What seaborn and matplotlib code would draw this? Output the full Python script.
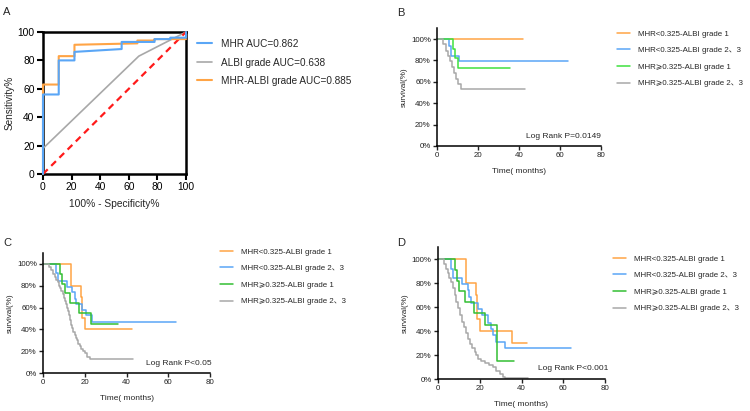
import matplotlib
matplotlib.use("Agg")
import matplotlib.pyplot as plt
import seaborn as sns
import pandas as pd

sns.set_style("ticks")
plt.rcParams['font.family'] = ['Liberation Sans', 'Noto Sans CJK SC', 'DejaVu Sans']

# ---------------- data ----------------
# Panel A : ROC curves (100% - specificity, sensitivity)
roc_mhr_fpr = [0, 0, 11, 11, 22, 22, 55, 55, 78, 78, 89, 89, 100, 100]
roc_mhr_tpr = [0, 56, 56, 80, 80, 86, 88, 93, 93, 95, 95, 96, 96, 100]
roc_albi_fpr = [0, 0, 67, 100]
roc_albi_tpr = [0, 18, 83, 100]
roc_comb_fpr = [0, 0, 11, 11, 22, 22, 66, 66, 78, 78, 100]
roc_comb_tpr = [0, 63, 63, 83, 83, 91, 92, 94, 94, 95, 95]
roc_labels = ["MHR AUC=0.862", "ALBI grade AUC=0.638", "MHR-ALBI grade AUC=0.885"]

km_labels = ["MHR<0.325-ALBI grade 1", "MHR<0.325-ALBI grade 2、3",
             "MHR⩾0.325-ALBI grade 1", "MHR⩾0.325-ALBI grade 2、3"]

# Panel B : step points (time in months, survival fraction)
b_orange_t = [0, 42]
b_orange_s = [1, 1]
b_blue_t = [0, 6.0, 6.8, 10.7, 64]
b_blue_s = [1, 0.93, 0.84, 0.79, 0.79]
b_green_t = [0, 8.0, 9.0, 10.0, 35.6]
b_green_s = [1, 0.91, 0.82, 0.73, 0.73]
b_gray_t = [0, 2.9, 4.2, 5.3, 6.2, 7.2, 8.2, 9.2, 10.2, 11.6, 43]
b_gray_s = [1, 0.95, 0.89, 0.84, 0.79, 0.74, 0.68, 0.63, 0.58, 0.53, 0.53]
b_pval = "Log Rank P=0.0149"

# Panel C
c_orange_t = [0, 13.2, 18.1, 18.8, 20.3, 42.5]
c_orange_s = [1, 0.80, 0.70, 0.50, 0.40, 0.40]
c_blue_t = [0, 6.1, 7.2, 11.5, 14.0, 15.2, 16.0, 18.8, 20.8, 23.6, 63.7]
c_blue_s = [1, 0.92, 0.84, 0.79, 0.74, 0.68, 0.63, 0.58, 0.53, 0.47, 0.47]
c_green_t = [0, 8.3, 9.3, 10.4, 12.8, 17.3, 23.0, 36.0]
c_green_s = [1, 0.91, 0.82, 0.73, 0.64, 0.55, 0.45, 0.45]
c_gray_t = [0, 3.0, 4.0, 5.0, 5.7, 6.4, 7.0, 7.6, 8.2, 8.8, 9.5, 10.0, 10.6, 11.0,
            11.5, 12.0, 12.5, 13.0, 13.6, 14.0, 14.6, 15.2, 16.0, 16.5, 17.0, 17.6,
            18.3, 19.2, 20.0, 21.0, 22.4, 43.3]
c_gray_s = [1, 0.97, 0.94, 0.91, 0.88, 0.855, 0.83, 0.80, 0.775, 0.75, 0.72, 0.69,
            0.66, 0.63, 0.60, 0.57, 0.53, 0.49, 0.44, 0.41, 0.38, 0.35, 0.32, 0.30,
            0.27, 0.245, 0.22, 0.20, 0.18, 0.15, 0.13, 0.13]
c_pval = "Log Rank P<0.05"

# Panel D
d_orange_t = [0, 13.3, 18.1, 18.9, 20.3, 35.5, 42.7]
d_orange_s = [1, 0.80, 0.70, 0.50, 0.40, 0.30, 0.30]
d_blue_t = [0, 6.1, 7.2, 11.6, 14.4, 15.0, 16.0, 19.4, 21.3, 23.8, 25.5, 26.4,
            28.0, 32.0, 63.5]
d_blue_s = [1, 0.92, 0.84, 0.79, 0.74, 0.68, 0.63, 0.58, 0.53, 0.47, 0.42, 0.37,
            0.31, 0.26, 0.26]
d_green_t = [0, 8.3, 9.1, 10.2, 12.8, 17.3, 22.4, 28.5, 36.3]
d_green_s = [1, 0.91, 0.82, 0.73, 0.64, 0.55, 0.45, 0.15, 0.15]
d_gray_t = [0, 2.9, 3.8, 4.7, 5.5, 6.4, 7.2, 8.0, 8.8, 9.6, 10.5, 11.5, 12.5, 13.6,
            14.4, 15.2, 16.4, 17.6, 18.4, 19.2, 20.8, 22.4, 24.5, 26.4, 28.0, 29.6,
            31.0, 32.0, 43.2]
d_gray_s = [1, 0.96, 0.92, 0.88, 0.845, 0.81, 0.76, 0.70, 0.645, 0.59, 0.53, 0.475,
            0.43, 0.38, 0.335, 0.29, 0.26, 0.225, 0.20, 0.17, 0.15, 0.13, 0.115, 0.10,
            0.07, 0.044, 0.02, 0.012, 0.012]
d_pval = "Log Rank P<0.001"

# ---------------- colours ----------------
C_BLUE = "#5aa6f6"
C_ORANGE = "#ffa445"
C_GRAY = "#a8a8a8"
C_GREEN_B = "#3ee03e"
C_GREEN = "#33bf33"

W, H = 750, 411
fig = plt.figure(figsize=(W / 100, H / 100), dpi=100)


def rect(left, top, right, bottom):
    return [left / W, 1 - bottom / H, (right - left) / W, (bottom - top) / H]


def fx(x):
    return x / W


def fy(y):
    return 1 - y / H


# ---------------- Panel A ----------------
axA = fig.add_axes(rect(43, 32, 186, 174))
roc_df = pd.concat([
    pd.DataFrame({"fpr": roc_mhr_fpr, "tpr": roc_mhr_tpr, "curve": roc_labels[0]}),
    pd.DataFrame({"fpr": roc_albi_fpr, "tpr": roc_albi_tpr, "curve": roc_labels[1]}),
    pd.DataFrame({"fpr": roc_comb_fpr, "tpr": roc_comb_tpr, "curve": roc_labels[2]}),
])
sns.lineplot(data=roc_df[roc_df.curve == roc_labels[1]], x="fpr", y="tpr", color=C_GRAY,
             lw=1.2, estimator=None, sort=False, ax=axA, label=roc_labels[1], clip_on=False)
sns.lineplot(x=[0, 100], y=[0, 100], color="#ff1a1a", lw=1.6, linestyle=(0, (3, 2.2)),
             estimator=None, sort=False, ax=axA, clip_on=False)
sns.lineplot(data=roc_df[roc_df.curve == roc_labels[2]], x="fpr", y="tpr", color=C_ORANGE,
             lw=1.5, estimator=None, sort=False, ax=axA, label=roc_labels[2], clip_on=False)
sns.lineplot(data=roc_df[roc_df.curve == roc_labels[0]], x="fpr", y="tpr", color=C_BLUE,
             lw=1.5, estimator=None, sort=False, ax=axA, label=roc_labels[0], clip_on=False)
axA.set_xlim(0, 100)
axA.set_ylim(0, 100)
axA.set_xticks(range(0, 101, 20))
axA.set_yticks(range(0, 101, 20))
for s in axA.spines.values():
    s.set_linewidth(1.8)
    s.set_color("black")
    s.set_zorder(1)
axA.tick_params(direction="out", length=4, width=1.5, labelsize=7.4, pad=2, colors="black")
axA.set_xlabel("100% - Specificity%", fontsize=7.4, labelpad=5)
axA.set_ylabel("Sensitivity%", fontsize=7.2, labelpad=2)
hA, lA = axA.get_legend_handles_labels()
order = [lA.index(l) for l in roc_labels]
axA.legend([hA[i] for i in order], [lA[i] for i in order], loc="upper left",
           bbox_to_anchor=(fx(197), fy(39)), bbox_transform=fig.transFigure,
           frameon=False, fontsize=7.2, handlelength=1.5, handletextpad=0.9,
           labelspacing=0.85, borderpad=0, borderaxespad=0)
fig.text(fx(3), fy(12), "A", fontsize=8, va="center", ha="left")


# ---------------- KM helper ----------------
def km_panel(ax, curves, pval, ptxt_xy, leg_xy, green):
    cols = [C_ORANGE, C_BLUE, green, C_GRAY]
    for (t, s), col, lab in zip(curves, cols, km_labels):
        sns.lineplot(x=t, y=[v * 100 for v in s], color=col, lw=1.1,
                     drawstyle="steps-post", estimator=None, sort=False, ax=ax,
                     label=lab, clip_on=False)
    ax.set_xlim(0, 80)
    ax.set_ylim(0, 110)
    ax.set_xticks([0, 20, 40, 60, 80])
    ax.set_yticks([0, 20, 40, 60, 80, 100])
    ax.set_yticklabels([f"{v}%" for v in [0, 20, 40, 60, 80, 100]])
    sns.despine(ax=ax)
    for sp in ["left", "bottom"]:
        ax.spines[sp].set_linewidth(1.1)
        ax.spines[sp].set_color("black")
    ax.tick_params(direction="out", length=3, width=1.0, labelsize=5.7, pad=1.5,
                   colors="#222222")
    ax.set_xlabel("Time( months)", fontsize=6.0, labelpad=6)
    ax.set_ylabel("survival(%)", fontsize=5.8, labelpad=2)
    ax.legend(loc="upper left", bbox_to_anchor=leg_xy, bbox_transform=fig.transFigure,
              frameon=False, fontsize=5.7, handlelength=1.7, handletextpad=0.9,
              labelspacing=1.15, borderpad=0, borderaxespad=0)
    fig.text(ptxt_xy[0], ptxt_xy[1], pval, fontsize=6.0, va="center", ha="left")


axB = fig.add_axes(rect(437, 28.3, 601, 146))
km_panel(axB, [(b_orange_t, b_orange_s), (b_blue_t, b_blue_s), (b_green_t, b_green_s),
               (b_gray_t, b_gray_s)], b_pval, (fx(526), fy(136)), (fx(617), fy(30)), C_GREEN_B)
fig.text(fx(397), fy(13), "B", fontsize=8, va="center", ha="left")

axC = fig.add_axes(rect(43, 253, 210, 373))
km_panel(axC, [(c_orange_t, c_orange_s), (c_blue_t, c_blue_s), (c_green_t, c_green_s),
               (c_gray_t, c_gray_s)], c_pval, (fx(146), fy(363)), (fx(220), fy(248)), C_GREEN)
fig.text(fx(3), fy(243), "C", fontsize=8, va="center", ha="left")

axD = fig.add_axes(rect(438, 247, 605, 379))
km_panel(axD, [(d_orange_t, d_orange_s), (d_blue_t, d_blue_s), (d_green_t, d_green_s),
               (d_gray_t, d_gray_s)], d_pval, (fx(538), fy(368)), (fx(613), fy(255)), C_GREEN)
fig.text(fx(397), fy(243), "D", fontsize=8, va="center", ha="left")

fig.savefig("out.png", dpi=100, facecolor="white")
